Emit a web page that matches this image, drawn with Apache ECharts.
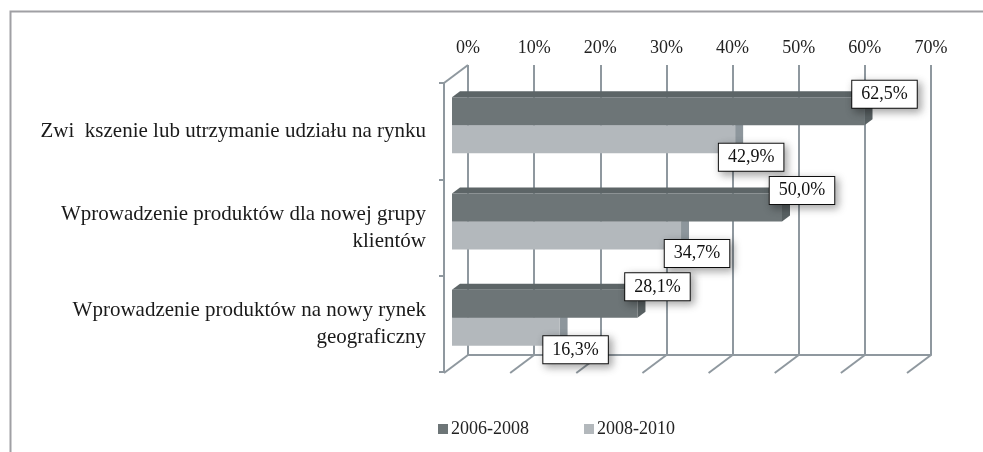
<!DOCTYPE html>
<html>
<head>
<meta charset="utf-8">
<script src="https://cdn.jsdelivr.net/npm/echarts@6/dist/echarts.min.js"></script>
<style>
  html, body { margin: 0; padding: 0; background: #fff; }
  #main { width: 983px; height: 452px; }
</style>
</head>
<body>
<div id="main"></div>
<script type="text/javascript">
// data
var categories = [
	'Zwi  kszenie lub utrzymanie udziału na rynku',
	'Wprowadzenie produktów dla nowej grupy\nklientów',
	'Wprowadzenie produktów na nowy rynek\ngeograficzny'
];
var seriesNames = ['2006-2008', '2008-2010'];
var values2006 = [62.5, 50.0, 28.1];
var values2008 = [42.9, 34.7, 16.3];
var tickValues = [0, 10, 20, 30, 40, 50, 60, 70];

var FONT = '"Liberation Serif", "Times New Roman", serif';
var gridColor = '#8f989f';
var depth = [8, -6];        // bar depth
var floorDepth = [-24, 18]; // back wall -> front edge

var palette = {
	dark:  { front: '#6d7577', top: '#5d6567', side: '#596163' },
	light: { front: '#b3b8bc', top: '#a2a8ac', side: '#8d969c' }
};

function fmt(v) {
	return v.toFixed(1).replace('.', ',') + '%';
}

function barRenderer(which) {
	var col = palette[which];
	return function (params, api) {
		var v = api.value(0);
		var idx = api.value(1);
		var start = api.coord([0, idx]);
		var end = api.coord([v, idx]);
		var bw = 28;
		var y0 = which === 'dark' ? start[1] - bw : start[1];
		var y1 = y0 + bw;
		var x0 = start[0], x1 = end[0];
		var dx = depth[0], dy = depth[1];
		var lx, ly;
		if (which === 'dark') { lx = x1 + 20; ly = (y0 + y1) / 2 - 17; }
		else { lx = x1 + 16; ly = (y0 + y1) / 2 + 18; }
		return {
			type: 'group',
			children: [
				{ type: 'polygon', shape: { points: [[x0, y0], [x0 + dx, y0 + dy], [x1 + dx, y0 + dy], [x1, y0]] },
				  style: { fill: col.top } },
				{ type: 'polygon', shape: { points: [[x1, y0], [x1 + dx, y0 + dy], [x1 + dx, y1 + dy], [x1, y1]] },
				  style: { fill: col.side } },
				{ type: 'rect', shape: { x: x0, y: y0, width: x1 - x0, height: y1 - y0 },
				  style: { fill: col.front } },
				{ type: 'text', x: lx, y: ly, z2: 100,
				  style: { text: fmt(v), font: '18px ' + FONT, fill: '#111',
					align: 'center', verticalAlign: 'middle',
					backgroundColor: '#fff', borderColor: '#111', borderWidth: 1,
					padding: [5, 9, 4, 9],
					shadowColor: 'rgba(0,0,0,0.35)', shadowBlur: 8, shadowOffsetX: 3, shadowOffsetY: 3 } }
			]
		};
	};
}

var chart = echarts.init(document.getElementById('main'));
var option = {
	animation: false,
	backgroundColor: '#fff',
	graphic: [{
		type: 'rect', left: 8, top: 9, z: -10,
		shape: { width: 1000, height: 500 },
		style: { fill: 'none', stroke: '#a0a0a4', lineWidth: 2 }
	}],
	legend: {
		data: seriesNames,
		left: 433, top: 415,
		icon: 'rect', itemWidth: 10, itemHeight: 10, itemGap: 55,
		textStyle: { fontFamily: FONT, fontSize: 18, color: '#222', padding: [0, 0, 0, -2] }
	},
	grid: [
		// bar plane
		{ left: 452, top: 77, width: 462, height: 289 },
		// left wall / front edge
		{ left: 444, top: 83, width: 462, height: 289 },
		// back wall
		{ left: 468, top: 65, width: 463, height: 290 }
	],
	xAxis: [
		{ gridIndex: 0, type: 'value', min: 0, max: 70, show: false },
		{ gridIndex: 1, type: 'value', min: 0, max: 70, show: false },
		{ gridIndex: 2, type: 'value', min: 0, max: 70, interval: 10, position: 'top',
		  axisLine: { show: true, lineStyle: { color: gridColor, width: 2 } },
		  axisTick: { show: false },
		  axisLabel: { formatter: '{value}%', fontFamily: FONT, fontSize: 18, color: '#222', margin: 8 },
		  splitLine: { show: true, lineStyle: { color: gridColor, width: 2 } } }
	],
	yAxis: [
		{ gridIndex: 0, type: 'category', data: categories, inverse: true, show: false },
		{ gridIndex: 1, type: 'category', data: categories, inverse: true,
		  axisLine: { show: true, lineStyle: { color: gridColor, width: 2 } },
		  axisTick: { show: true, length: 5, lineStyle: { color: gridColor, width: 2 } },
		  axisLabel: { fontFamily: FONT, fontSize: 21, color: '#1a1a1a', margin: 18, lineHeight: 27,
			align: 'right', padding: [9, 0, 0, 0] } },
		{ gridIndex: 2, type: 'value', min: 0, max: 1, show: false }
	],
	series: [
		{
			type: 'custom', name: 'floor', xAxisIndex: 2, yAxisIndex: 2, silent: true, z: 1,
			data: tickValues.map(function (t) { return [t]; }),
			renderItem: function (params, api) {
				var p = api.coord([api.value(0), 0]);
				var children = [{ type: 'line',
					shape: { x1: p[0], y1: p[1], x2: p[0] + floorDepth[0], y2: p[1] + floorDepth[1] },
					style: { stroke: gridColor, lineWidth: 2 } }];
				if (params.dataIndex === 0) {
					var q = api.coord([0, 1]);
					children.push({ type: 'line',
						shape: { x1: q[0], y1: q[1], x2: q[0] + floorDepth[0], y2: q[1] + floorDepth[1] },
						style: { stroke: gridColor, lineWidth: 2 } });
				}
				return { type: 'group', children: children };
			}
		},
		{
			type: 'custom', name: seriesNames[0], xAxisIndex: 0, yAxisIndex: 0, z: 4,
			itemStyle: { color: palette.dark.front },
			data: values2006.map(function (v, i) { return [v, i]; }),
			renderItem: barRenderer('dark')
		},
		{
			type: 'custom', name: seriesNames[1], xAxisIndex: 0, yAxisIndex: 0, z: 3,
			itemStyle: { color: palette.light.front },
			data: values2008.map(function (v, i) { return [v, i]; }),
			renderItem: barRenderer('light')
		}
	]
};
chart.setOption(option);
</script>
</body>
</html>
